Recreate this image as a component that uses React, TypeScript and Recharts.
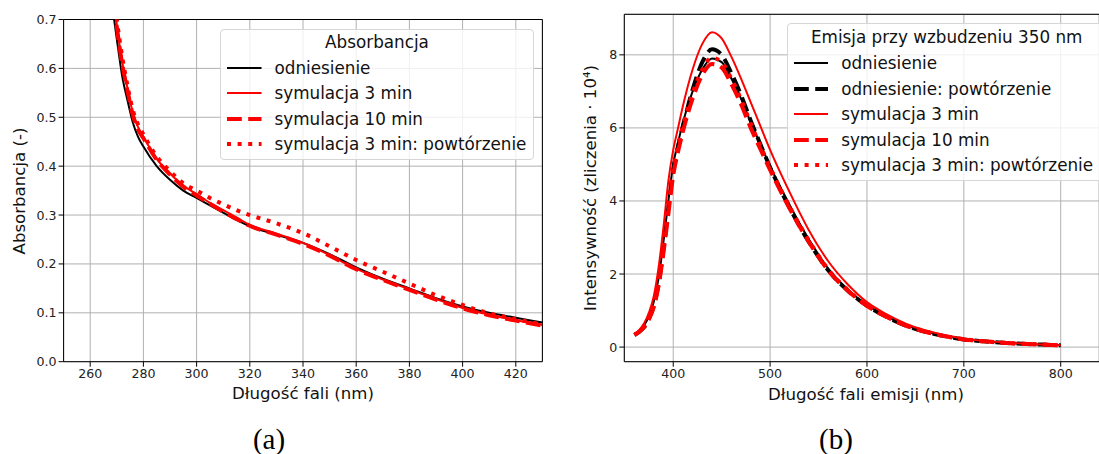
import { LineChart, Line, XAxis, YAxis, CartesianGrid, ReferenceLine } from "recharts";

// (a) absorbance
const ABS_WL = [268, 269, 270, 272, 274, 276, 278, 280, 285, 290, 295, 300, 305, 310, 315, 320, 330, 340, 350, 360, 370, 380, 390, 400, 410, 420, 430];
const ABS_REF = [0.74, 0.7, 0.66, 0.585, 0.535, 0.49, 0.46, 0.44, 0.4, 0.372, 0.35, 0.335, 0.32, 0.305, 0.29, 0.277, 0.26, 0.243, 0.22, 0.193, 0.17, 0.15, 0.13, 0.113, 0.1, 0.09, 0.08];
const ABS_SIM3 = [0.78, 0.735, 0.69, 0.615, 0.56, 0.51, 0.48, 0.46, 0.415, 0.385, 0.36, 0.343, 0.325, 0.31, 0.295, 0.28, 0.262, 0.243, 0.218, 0.19, 0.168, 0.148, 0.128, 0.11, 0.096, 0.085, 0.075];
const ABS_SIM10 = [0.775, 0.73, 0.685, 0.61, 0.555, 0.505, 0.475, 0.457, 0.413, 0.383, 0.358, 0.34, 0.323, 0.307, 0.292, 0.278, 0.26, 0.241, 0.217, 0.189, 0.167, 0.147, 0.127, 0.109, 0.095, 0.084, 0.074];
const ABS_SIM3_REP = [0.79, 0.745, 0.7, 0.625, 0.565, 0.515, 0.485, 0.465, 0.42, 0.39, 0.365, 0.35, 0.335, 0.322, 0.31, 0.3, 0.283, 0.263, 0.236, 0.208, 0.184, 0.16, 0.136, 0.116, 0.099, 0.087, 0.076];
const ABS_X_TICKS = [260, 280, 300, 320, 340, 360, 380, 400, 420];
const ABS_Y_TICKS = [0, 0.1, 0.2, 0.3, 0.4, 0.5, 0.6, 0.7];

// (b) emission, x 10^4 counts
const EM_WL = [360, 365, 370, 375, 380, 385, 390, 395, 400, 405, 410, 420, 430, 440, 450, 460, 470, 480, 490, 500, 520, 540, 560, 580, 600, 620, 640, 660, 680, 700, 720, 740, 760, 780, 800];
const EM_REF = [0.35, 0.45, 0.6, 0.85, 1.25, 1.9, 2.9, 4.0, 5.0, 5.6, 6.15, 7.0, 7.6, 7.9, 7.8, 7.35, 6.8, 6.15, 5.55, 4.95, 3.9, 2.95, 2.15, 1.58, 1.15, 0.85, 0.6, 0.43, 0.3, 0.22, 0.16, 0.12, 0.09, 0.07, 0.05];
const EM_REF_REP = [0.33, 0.42, 0.55, 0.78, 1.15, 1.75, 2.7, 3.8, 4.85, 5.5, 6.05, 7.05, 7.8, 8.15, 8.0, 7.5, 6.9, 6.2, 5.55, 4.92, 3.82, 2.88, 2.1, 1.55, 1.13, 0.83, 0.59, 0.42, 0.3, 0.21, 0.16, 0.12, 0.09, 0.07, 0.05];
const EM_SIM3 = [0.35, 0.47, 0.65, 0.95, 1.4, 2.2, 3.3, 4.55, 5.4, 6.0, 6.6, 7.6, 8.3, 8.62, 8.45, 7.95, 7.35, 6.7, 6.05, 5.4, 4.25, 3.2, 2.35, 1.72, 1.23, 0.9, 0.64, 0.46, 0.33, 0.23, 0.17, 0.13, 0.1, 0.07, 0.05];
const EM_SIM10 = [0.33, 0.42, 0.55, 0.77, 1.1, 1.7, 2.6, 3.65, 4.7, 5.35, 5.9, 6.8, 7.45, 7.75, 7.65, 7.2, 6.65, 6.0, 5.42, 4.85, 3.8, 2.88, 2.1, 1.55, 1.13, 0.83, 0.59, 0.42, 0.3, 0.21, 0.16, 0.12, 0.09, 0.07, 0.05];
const EM_SIM3_REP = [0.34, 0.43, 0.57, 0.8, 1.18, 1.8, 2.75, 3.85, 4.85, 5.5, 6.05, 6.95, 7.6, 7.92, 7.8, 7.35, 6.78, 6.12, 5.5, 4.92, 3.85, 2.92, 2.13, 1.57, 1.14, 0.84, 0.6, 0.43, 0.3, 0.22, 0.16, 0.12, 0.09, 0.07, 0.05];
const EM_X_TICKS = [400, 500, 600, 700, 800];
const EM_Y_TICKS = [0, 2, 4, 6, 8];

const FONT = "'DejaVu Sans', sans-serif";
const TICK = { fontSize: 12.6, fill: "#222", fontFamily: FONT };
const GRID = "#b0b0b0";
const DASHED = "14.8 6.4";
const DOTTED = "4 6.6";

const zip = (xs: number[], ys: number[]) => xs.map((x, i) => ({ x, y: ys[i] }));

type Entry = { label: string; color: string; width: number; dash?: string };

const ABS_SERIES: (Entry & { values: number[] })[] = [
  { label: "odniesienie", color: "#000", width: 2, values: ABS_REF },
  { label: "symulacja 3 min", color: "#ff0000", width: 2, values: ABS_SIM3 },
  { label: "symulacja 10 min", color: "#ff0000", width: 4, dash: DASHED, values: ABS_SIM10 },
  { label: "symulacja 3 min: powtórzenie", color: "#ff0000", width: 4, dash: DOTTED, values: ABS_SIM3_REP },
];

const EM_SERIES: (Entry & { values: number[] })[] = [
  { label: "odniesienie", color: "#000", width: 2, values: EM_REF },
  { label: "odniesienie: powtórzenie", color: "#000", width: 4, dash: DASHED, values: EM_REF_REP },
  { label: "symulacja 3 min", color: "#ff0000", width: 2, values: EM_SIM3 },
  { label: "symulacja 10 min", color: "#ff0000", width: 4, dash: DASHED, values: EM_SIM10 },
  { label: "symulacja 3 min: powtórzenie", color: "#ff0000", width: 4, dash: DOTTED, values: EM_SIM3_REP },
];

function LegendBox({ left, top, width, title, titleH, rowH, entries }: {
  left: number; top: number; width: number; title: string; titleH: number; rowH: number; entries: Entry[];
}) {
  return (
    <div
      style={{
        position: "absolute", left, top, width, boxSizing: "border-box",
        background: "rgba(255,255,255,0.8)", border: "1px solid #d6d6d6", borderRadius: 4,
        fontFamily: FONT, fontSize: 16.8, color: "#111", paddingBottom: 2,
      }}
    >
      <div style={{ height: titleH, lineHeight: `${titleH}px`, textAlign: "center" }}>{title}</div>
      {entries.map((e) => (
        <div key={e.label} style={{ height: rowH, display: "flex", alignItems: "center", whiteSpace: "nowrap" }}>
          <svg width={34.5} height={8} style={{ marginLeft: 6, marginRight: 13, flex: "none" }}>
            <line x1={0} x2={34.5} y1={4} y2={4} stroke={e.color} strokeWidth={e.width} strokeDasharray={e.dash} />
          </svg>
          <span>{e.label}</span>
        </div>
      ))}
    </div>
  );
}

function Text({ x, y, children, rotate, size = 16.6, serif }: {
  x: number; y: number; children: React.ReactNode; rotate?: boolean; size?: number; serif?: boolean;
}) {
  return (
    <div
      style={{
        position: "absolute", left: x, top: y, whiteSpace: "nowrap", lineHeight: 1,
        transform: `translate(-50%, -50%)${rotate ? " rotate(-90deg)" : ""}`,
        fontFamily: serif ? "'Liberation Serif', serif" : FONT, fontSize: size, color: serif ? "#000" : "#111",
      }}
    >
      {children}
    </div>
  );
}

function AbsorbanceChart() {
  return (
    <LineChart
      width={560}
      height={454}
      margin={{ top: 19.5, right: 17.6, left: 0, bottom: 62.3 }}
      style={{ position: "absolute", left: 0, top: 0 }}
    >
      <CartesianGrid stroke={GRID} strokeWidth={1} />
      <XAxis
        dataKey="x" type="number" domain={[250, 430]} ticks={ABS_X_TICKS} allowDataOverflow
        height={30} tickSize={5} tick={TICK} stroke="#000"
      />
      <YAxis
        type="number" domain={[0, 0.7]} ticks={ABS_Y_TICKS} allowDataOverflow width={63.6}
        tickSize={5} tick={TICK} stroke="#000" tickFormatter={(v: number) => v.toFixed(1)}
      />
      <ReferenceLine y={0.7} stroke="#000" strokeWidth={1} />
      <ReferenceLine x={430} stroke="#000" strokeWidth={1} />
      {ABS_SERIES.map((s) => (
        <Line
          key={s.label} data={zip(ABS_WL, s.values)} dataKey="y" type="monotone" dot={false}
          stroke={s.color} strokeWidth={s.width} strokeDasharray={s.dash} isAnimationActive={false}
        />
      ))}
    </LineChart>
  );
}

function EmissionChart() {
  return (
    <LineChart
      width={539}
      height={454}
      margin={{ top: 14.3, right: 0, left: 0, bottom: 62.3 }}
      style={{ position: "absolute", left: 560, top: 0 }}
    >
      <CartesianGrid stroke={GRID} strokeWidth={1} />
      <XAxis
        dataKey="x" type="number" domain={[349.5, 839.5]} ticks={EM_X_TICKS} allowDataOverflow
        height={30} tickSize={5} tick={TICK} stroke="#000"
      />
      <YAxis
        type="number" domain={[-0.4, 9.11]} ticks={EM_Y_TICKS} allowDataOverflow width={64.3}
        tickSize={5} tick={TICK} stroke="#000"
      />
      <ReferenceLine y={9.11} stroke="#000" strokeWidth={1} />
      {EM_SERIES.map((s) => (
        <Line
          key={s.label} data={zip(EM_WL, s.values)} dataKey="y" type="monotone" dot={false}
          stroke={s.color} strokeWidth={s.width} strokeDasharray={s.dash} isAnimationActive={false}
        />
      ))}
    </LineChart>
  );
}

export default function App() {
  return (
    <div style={{ position: "absolute", left: 0, top: 0, width: 1099, height: 454, background: "#fff", overflow: "hidden" }}>
      <AbsorbanceChart />
      <EmissionChart />
      <LegendBox left={220} top={29.3} width={314} title="Absorbancja" titleH={25} rowH={25.4} entries={ABS_SERIES} />
      <LegendBox left={786.7} top={23.3} width={320} title="Emisja przy wzbudzeniu 350 nm" titleH={26} rowH={25.5} entries={EM_SERIES} />
      <Text x={20} y={191} rotate>Absorbancja (-)</Text>
      <Text x={303} y={394}>Długość fali (nm)</Text>
      <Text x={591} y={188} rotate>Intensywność (zliczenia · 10⁴)</Text>
      <Text x={866} y={395}>Długość fali emisji (nm)</Text>
      <Text x={269} y={439} size={29} serif>(a)</Text>
      <Text x={836} y={439} size={29} serif>(b)</Text>
    </div>
  );
}
